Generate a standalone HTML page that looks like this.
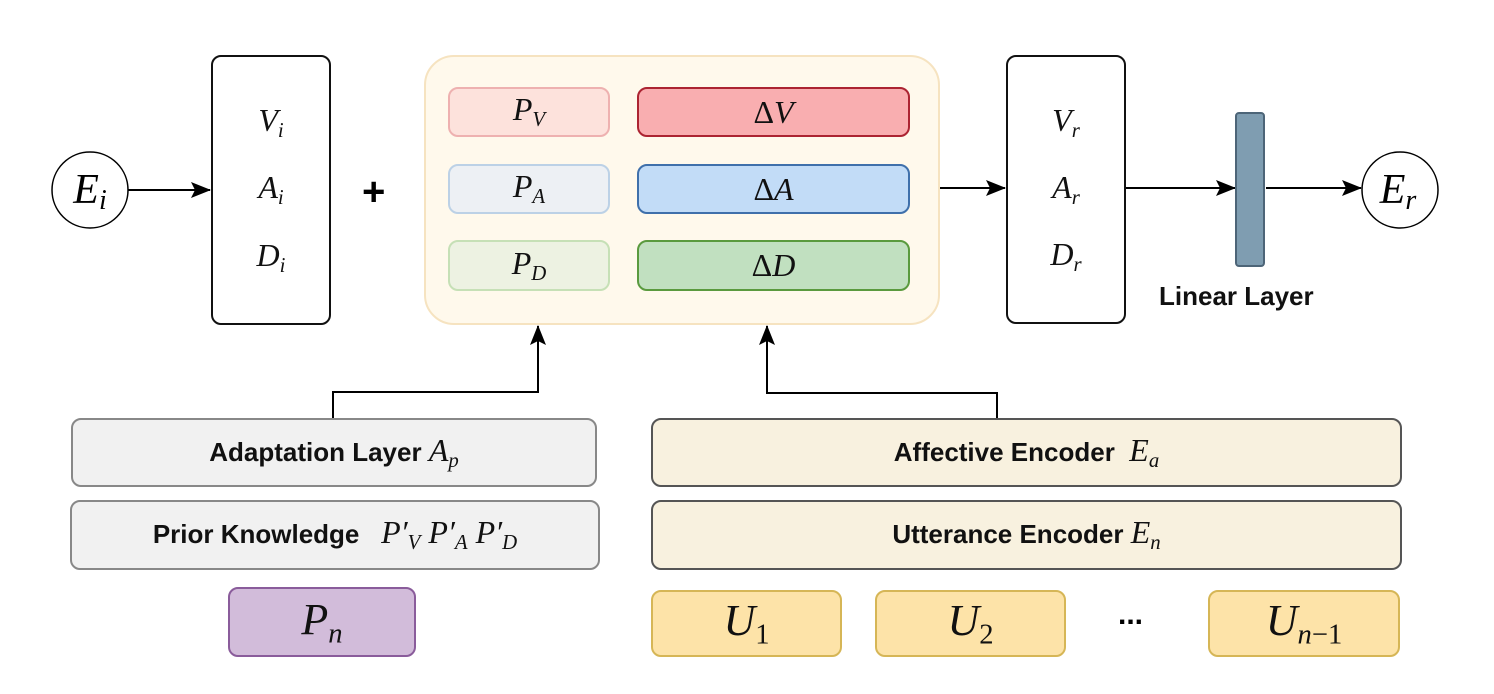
<!DOCTYPE html><html><head><style>
body{margin:0;width:1494px;height:694px;background:#fff;overflow:hidden;position:relative;font-family:"Liberation Sans",sans-serif}
.b{position:absolute;box-sizing:border-box;border-radius:10px;display:flex;align-items:center;justify-content:center}
.m{font-family:"Liberation Serif",serif;font-style:italic;font-size:32px;color:#111;font-weight:normal}
.t{font-weight:bold;font-size:26px;color:#111}
sub{font-size:0.65em;vertical-align:-0.3em}
</style></head><body>
<svg width="1494" height="694" style="position:absolute;left:0;top:0">
<defs><marker id="a2" markerWidth="20" markerHeight="16" refX="19" refY="8" orient="auto" markerUnits="userSpaceOnUse"><path d="M0,0L20,8L0,16L4,8z" fill="#000"/></marker></defs>
<g stroke="#000" stroke-width="2" fill="none">
<circle cx="90" cy="190" r="38" stroke-width="1.5"/>
<circle cx="1400" cy="190" r="38" stroke-width="1.5"/>
<line x1="128" y1="190" x2="210" y2="190" marker-end="url(#a2)"/>
<line x1="940" y1="188" x2="1005" y2="188" marker-end="url(#a2)"/>
<line x1="1125" y1="188" x2="1235" y2="188" marker-end="url(#a2)"/>
<line x1="1266" y1="188" x2="1361" y2="188" marker-end="url(#a2)"/>
<polyline points="333,418 333,392 538,392 538,326" marker-end="url(#a2)"/>
<polyline points="997,418 997,393 767,393 767,326" marker-end="url(#a2)"/>
</g>
<text x="90" y="203" font-family="Liberation Serif" font-style="italic" font-size="42" text-anchor="middle">E<tspan font-size="28" dy="6">i</tspan></text>
<text x="1398" y="203" font-family="Liberation Serif" font-style="italic" font-size="42" text-anchor="middle">E<tspan font-size="28" dy="6">r</tspan></text>
</svg>
<div class="b m" style="left:211px;top:55px;width:120px;height:270px;border:2px solid #111;flex-direction:column;gap:26px"><div>V<sub>i</sub></div><div>A<sub>i</sub></div><div>D<sub>i</sub></div></div>
<div style="position:absolute;left:362px;top:170px;font-size:40px;font-weight:bold">+</div>
<div class="b" style="left:424px;top:55px;width:516px;height:270px;background:#fff9ec;border:2px solid #f6e3c0;border-radius:30px"></div>
<div class="b m" style="left:448px;top:87px;width:162px;height:50px;background:#fde2dc;border:2px solid #eeb1b0"><span>P<sub>V</sub></span></div>
<div class="b m" style="left:637px;top:87px;width:273px;height:50px;background:#f9aeb0;border:2px solid #ac2432"><span><span style="font-style:normal">Δ</span>V</span></div>
<div class="b m" style="left:448px;top:164px;width:162px;height:50px;background:#edf0f4;border:2px solid #bcd1e6"><span>P<sub>A</sub></span></div>
<div class="b m" style="left:637px;top:164px;width:273px;height:50px;background:#c2dcf7;border:2px solid #3f70ab"><span><span style="font-style:normal">Δ</span>A</span></div>
<div class="b m" style="left:448px;top:240px;width:162px;height:51px;background:#edf2e2;border:2px solid #c6e0b6"><span>P<sub>D</sub></span></div>
<div class="b m" style="left:637px;top:240px;width:273px;height:51px;background:#c1e0c0;border:2px solid #5a9a3e"><span><span style="font-style:normal">Δ</span>D</span></div>
<div class="b m" style="left:1006px;top:55px;width:120px;height:269px;border:2px solid #111;flex-direction:column;gap:26px"><div>V<sub>r</sub></div><div>A<sub>r</sub></div><div>D<sub>r</sub></div></div>
<div style="position:absolute;left:1235px;top:112px;width:30px;height:155px;box-sizing:border-box;background:#7f9db1;border:2px solid #4d6578;border-radius:4px"></div>
<div class="t" style="position:absolute;left:1159px;top:281px">Linear Layer</div>
<div class="b t" style="left:71px;top:418px;width:526px;height:69px;background:#f1f1f1;border:2px solid #888"><span>Adaptation Layer&nbsp;<span class="m">A<sub>p</sub></span></span></div>
<div class="b t" style="left:70px;top:500px;width:530px;height:70px;background:#f1f1f1;border:2px solid #888"><span>Prior Knowledge&nbsp;&nbsp;&nbsp;<span class="m">P′<sub>V</sub> P′<sub>A</sub> P′<sub>D</sub></span></span></div>
<div class="b m" style="left:228px;top:587px;width:188px;height:70px;background:#d2bcda;border:2px solid #8a5c9b;font-size:44px"><span>P<sub>n</sub></span></div>
<div class="b t" style="left:651px;top:418px;width:751px;height:69px;background:#f8f1df;border:2px solid #555"><span>Affective Encoder&nbsp;&nbsp;<span class="m">E<sub>a</sub></span></span></div>
<div class="b t" style="left:651px;top:500px;width:751px;height:70px;background:#f8f1df;border:2px solid #555"><span>Utterance Encoder&nbsp;<span class="m">E<sub>n</sub></span></span></div>
<div class="b m" style="left:651px;top:590px;width:191px;height:67px;background:#fde3a8;border:2px solid #d6b656;font-size:44px"><span>U<sub style="font-style:normal">1</sub></span></div>
<div class="b m" style="left:875px;top:590px;width:191px;height:67px;background:#fde3a8;border:2px solid #d6b656;font-size:44px"><span>U<sub style="font-style:normal">2</sub></span></div>
<div style="position:absolute;left:1118px;top:598px;font-size:30px;font-weight:bold">...</div>
<div class="b m" style="left:1208px;top:590px;width:192px;height:67px;background:#fde3a8;border:2px solid #d6b656;font-size:44px"><span>U<sub>n<span style="font-style:normal">−1</span></sub></span></div>
</body></html>
